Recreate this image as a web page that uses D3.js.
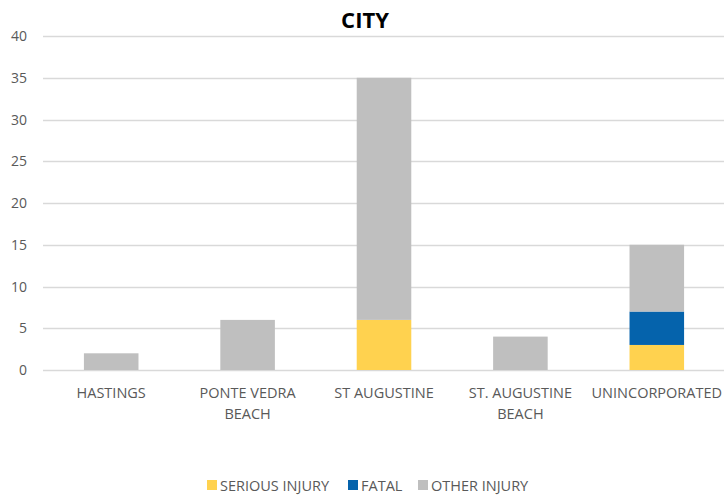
<!DOCTYPE html>
<html>
<head>
<meta charset="utf-8">
<script src="https://cdn.jsdelivr.net/npm/d3@7"></script>
<style>
  body { margin: 0; background: #fff; }
  text { font-family: "Open Sans", "Liberation Sans", sans-serif; }
</style>
</head>
<body>
<svg width="724" height="495"></svg>
<script>
let cities = [["HASTINGS"], ["PONTE VEDRA", "BEACH"], ["ST AUGUSTINE"], ["ST. AUGUSTINE", "BEACH"], ["UNINCORPORATED"]];
let seriesNames = ["SERIOUS INJURY", "FATAL", "OTHER INJURY"];
let serious = [0, 0, 6, 0, 3];
let fatal = [0, 0, 0, 0, 4];
let other = [2, 6, 29, 4, 8];
let yTicks = [0, 5, 10, 15, 20, 25, 30, 35, 40];
let colors = ["#FFD24F", "#0563AC", "#BFBFBF"];

let svg = d3.select("svg");

let rows = cities.map(function(c, i) {
  return { key: i, "SERIOUS INJURY": serious[i], "FATAL": fatal[i], "OTHER INJURY": other[i] };
});
let stacked = d3.stack().keys(seriesNames)(rows);

let xScale = d3.scaleBand()
  .domain(d3.range(cities.length))
  .range([43, 725])
  .paddingInner(0.6)
  .paddingOuter(0.3);

let yScale = d3.scaleLinear().domain([0, 40]).range([370, 36]);

// gridlines
svg.append("g")
  .selectAll("line")
  .data(yTicks)
  .enter()
  .append("line")
  .attr("x1", 43)
  .attr("x2", 724)
  .attr("y1", function(d) { return Math.round(yScale(d)) + 0.5; })
  .attr("y2", function(d) { return Math.round(yScale(d)) + 0.5; })
  .attr("stroke", "#D9D9D9")
  .attr("stroke-width", 1.5);

// y labels
svg.append("g")
  .selectAll("text")
  .data(yTicks)
  .enter()
  .append("text")
  .attr("x", 27)
  .attr("y", function(d) { return yScale(d) + 5; })
  .attr("text-anchor", "end")
  .attr("font-size", 14)
  .attr("fill", "#595959")
  .text(function(d) { return d; });

// bars
svg.append("g")
  .selectAll("g")
  .data(stacked)
  .enter()
  .append("g")
  .attr("fill", function(d, i) { return colors[i]; })
  .selectAll("rect")
  .data(function(d) { return d; })
  .enter()
  .append("rect")
  .attr("x", function(d, i) { return xScale(i); })
  .attr("width", xScale.bandwidth())
  .attr("y", function(d) { return yScale(d[1]); })
  .attr("height", function(d) { return yScale(d[0]) - yScale(d[1]); });

// category labels
let cat = svg.append("g")
  .selectAll("text")
  .data(cities)
  .enter()
  .append("text")
  .attr("text-anchor", "middle")
  .attr("font-size", 14.5)
  .attr("fill", "#595959");
cat.selectAll("tspan")
  .data(function(d, i) { return d.map(function(s) { return { s: s, i: i }; }); })
  .enter()
  .append("tspan")
  .attr("x", function(d) { return xScale(d.i) + xScale.bandwidth() / 2; })
  .attr("y", function(d, j) { return 398 + j * 21; })
  .text(function(d) { return d.s; });

// title
svg.append("text")
  .attr("x", 365)
  .attr("y", 28)
  .attr("text-anchor", "middle")
  .attr("font-size", 22)
  .attr("font-weight", "bold")
  .attr("fill", "#000")
  .text("CITY");

// legend
let legendX = [207, 348, 418];
let lg = svg.append("g")
  .selectAll("g")
  .data(seriesNames)
  .enter()
  .append("g")
  .attr("transform", function(d, i) { return "translate(" + legendX[i] + ",480)"; });
lg.append("rect")
  .attr("width", 10)
  .attr("height", 10)
  .attr("fill", function(d, i) { return colors[i]; });
lg.append("text")
  .attr("x", 13)
  .attr("y", 10.5)
  .attr("font-size", 14.5)
  .attr("fill", "#595959")
  .text(function(d) { return d; });
</script>
</body>
</html>
